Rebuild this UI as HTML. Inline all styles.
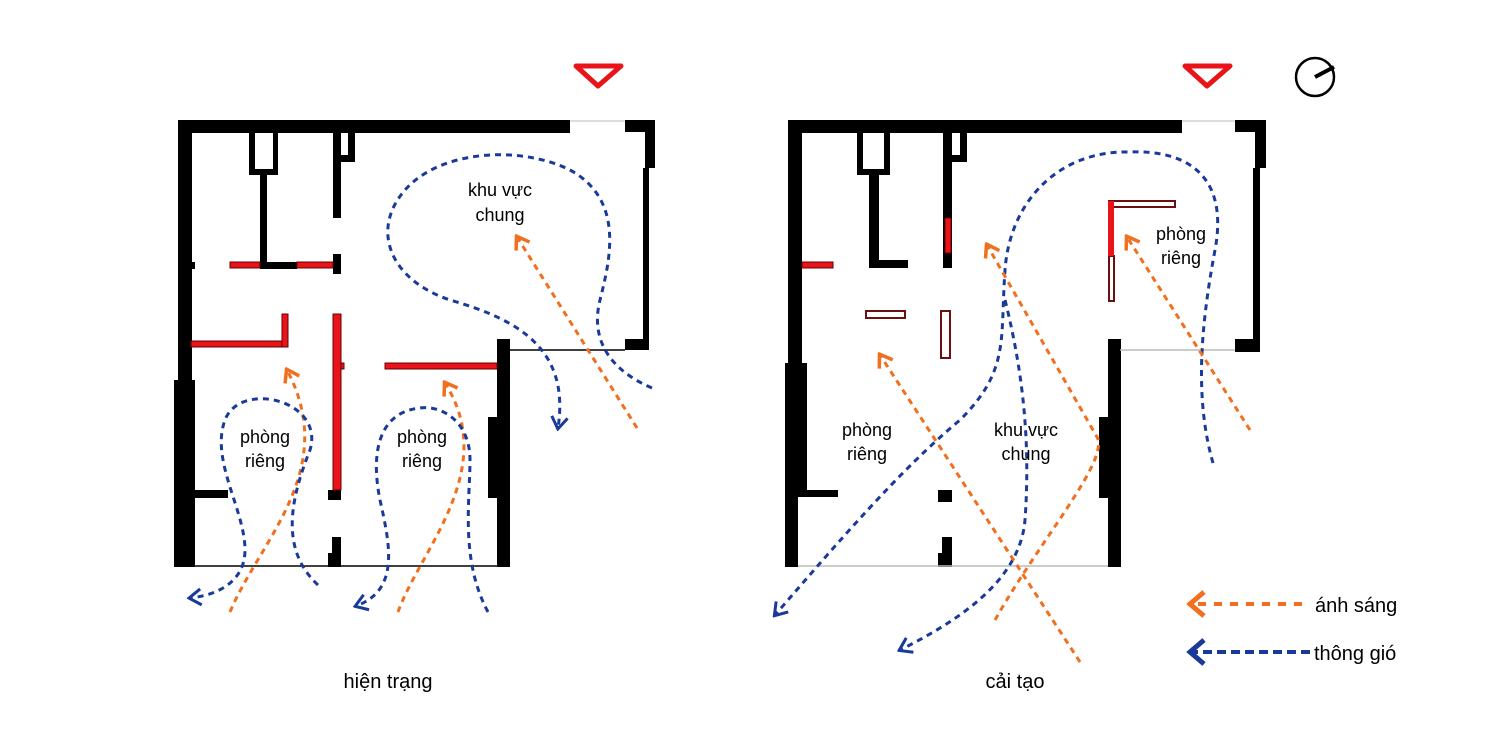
<!DOCTYPE html>
<html><head><meta charset="utf-8"><style>
html,body{margin:0;padding:0;background:#fff;}
svg{display:block;}
text{font-family:"Liberation Sans",sans-serif;fill:#000;}
</style></head><body>
<svg width="1500" height="735" viewBox="0 0 1500 735" xmlns="http://www.w3.org/2000/svg">
<defs>
<marker id="mo" markerUnits="userSpaceOnUse" markerWidth="20" markerHeight="20" refX="17" refY="10" orient="auto" viewBox="0 0 20 20"><path d="M14,2 L2,10 L14,18" fill="none" stroke="#f07020" stroke-width="3.5" transform="rotate(180 10 10)"/></marker>
<marker id="mb" markerUnits="userSpaceOnUse" markerWidth="20" markerHeight="20" refX="17" refY="10" orient="auto" viewBox="0 0 20 20"><path d="M14,2 L2,10 L14,18" fill="none" stroke="#1a3a9a" stroke-width="3" transform="rotate(180 10 10)"/></marker>
<marker id="mo2" markerUnits="userSpaceOnUse" markerWidth="30" markerHeight="30" refX="26" refY="15" orient="auto" viewBox="0 0 30 30"><path d="M18,3 L4,15 L18,27" fill="none" stroke="#f07020" stroke-width="5" transform="rotate(180 15 15)"/></marker>
<marker id="mb2" markerUnits="userSpaceOnUse" markerWidth="30" markerHeight="30" refX="26" refY="15" orient="auto" viewBox="0 0 30 30"><path d="M18,3 L4,15 L18,27" fill="none" stroke="#1a3a9a" stroke-width="5" transform="rotate(180 15 15)"/></marker>
</defs>

<!-- LEFT PLAN -->
<g fill="#000">
<rect x="178" y="120" width="392" height="13"/>
<rect x="625" y="120" width="30" height="12"/>
<rect x="645" y="120" width="10" height="48"/>
<rect x="643" y="168" width="6" height="182"/>
<rect x="625" y="339" width="24" height="11"/>
<rect x="178" y="120" width="14" height="262"/>
<rect x="174" y="380" width="21" height="187"/>
<rect x="191" y="262" width="4" height="7"/>
<rect x="497" y="339" width="13" height="228"/>
<rect x="488" y="417" width="10" height="81"/>
<rect x="333" y="133" width="8" height="85"/>
<rect x="341" y="133" width="14" height="29"/>
<rect x="333" y="254" width="8" height="20"/>
<rect x="249" y="133" width="29" height="42"/>
<rect x="260" y="175" width="7" height="90"/>
<rect x="260" y="262" width="37" height="7"/>
<rect x="328" y="490" width="13" height="10"/>
<rect x="332" y="537" width="9" height="30"/>
<rect x="328" y="553" width="6" height="14"/>
<rect x="188" y="490" width="40" height="8"/>
</g>
<rect x="255" y="133" width="18" height="36" fill="#fff"/>
<rect x="341" y="133" width="7" height="22" fill="#fff"/>
<line x1="570" y1="121" x2="625" y2="121" stroke="#bbb" stroke-width="1"/>
<line x1="510" y1="350" x2="625" y2="350" stroke="#000" stroke-width="1.5"/>
<line x1="187" y1="566" x2="500" y2="566" stroke="#000" stroke-width="1.5"/>
<g fill="#e8141a" stroke="#600" stroke-width="1">
<rect x="230" y="262" width="30" height="6"/>
<rect x="297" y="262" width="36" height="6"/>
<rect x="191" y="341" width="97" height="6"/>
<rect x="282" y="314" width="6" height="33"/>
<rect x="333" y="314" width="8" height="176"/>
<rect x="341" y="363" width="3" height="6"/>
<rect x="385" y="363" width="112" height="6"/>
</g>

<!-- RIGHT PLAN -->
<g fill="#000">
<rect x="788" y="120" width="394" height="13"/>
<rect x="1235" y="120" width="31" height="12"/>
<rect x="1255" y="120" width="11" height="48"/>
<rect x="1253" y="168" width="7" height="182"/>
<rect x="1235" y="339" width="25" height="13"/>
<rect x="788" y="120" width="14" height="245"/>
<rect x="785" y="363" width="22" height="134"/>
<rect x="785" y="497" width="13" height="70"/>
<rect x="802" y="490" width="36" height="7"/>
<rect x="857" y="133" width="33" height="42"/>
<rect x="869" y="175" width="10" height="93"/>
<rect x="869" y="260" width="39" height="8"/>
<rect x="943" y="133" width="9" height="135"/>
<rect x="952" y="133" width="15" height="29"/>
<rect x="938" y="490" width="14" height="12"/>
<rect x="942" y="537" width="10" height="30"/>
<rect x="938" y="553" width="6" height="14"/>
<rect x="1108" y="339" width="13" height="228"/>
<rect x="1099" y="417" width="10" height="81"/>
</g>
<rect x="863" y="133" width="21" height="36" fill="#fff"/>
<rect x="952" y="133" width="8" height="22" fill="#fff"/>
<line x1="1182" y1="121" x2="1235" y2="121" stroke="#bbb" stroke-width="1"/>
<line x1="1120" y1="350" x2="1235" y2="350" stroke="#bbb" stroke-width="1.5"/>
<line x1="798" y1="566" x2="1108" y2="566" stroke="#bbb" stroke-width="1.5"/>
<g fill="#e8141a" stroke="#600" stroke-width="1">
<rect x="945" y="218" width="6" height="35"/>
<rect x="802" y="262" width="31" height="6"/>
</g>
<g fill="#fff" stroke="#6a1010" stroke-width="2">
<rect x="866" y="311" width="39" height="7"/>
<rect x="941" y="311" width="9" height="47"/>
<rect x="1109" y="201" width="66" height="6"/>
<rect x="1109" y="256" width="5" height="45"/>
</g>
<rect x="1108" y="201" width="6" height="55" fill="#e8141a"/>

<!-- arrows -->
<g fill="none" stroke-width="3" stroke-dasharray="6 5">
<path d="M652,388 C610,370 590,340 600,300 S625,200 570,170 C520,145 440,150 405,190 C370,230 390,280 450,300 C520,320 570,350 558,428" stroke="#1a3a9a" marker-end="url(#mb)"/>
<path d="M637,428 L517,237" stroke="#f07020" marker-end="url(#mo)"/>
<path d="M230,612 C260,540 340,470 287,370" stroke="#f07020" marker-end="url(#mo)"/>
<path d="M318,585 C280,550 290,500 310,450 C325,400 240,380 225,420 C210,460 245,510 245,550 C245,580 220,595 190,598" stroke="#1a3a9a" marker-end="url(#mb)"/>
<path d="M398,612 C420,550 500,470 445,383" stroke="#f07020" marker-end="url(#mo)"/>
<path d="M488,612 C460,560 470,500 470,460 C470,420 440,405 420,408 C380,412 370,450 380,500 C390,545 400,590 356,606" stroke="#1a3a9a" marker-end="url(#mb)"/>
<path d="M1213,463 C1195,400 1200,330 1215,250 C1230,170 1180,150 1130,152 C1060,150 1010,200 1005,270 C1000,340 1010,370 960,420 C900,470 840,540 775,615" stroke="#1a3a9a" marker-end="url(#mb)"/>
<path d="M1005,300 C1025,380 1030,450 1025,520 C1020,580 960,620 900,650" stroke="#1a3a9a" marker-end="url(#mb)"/>
<path d="M995,620 C1040,540 1110,460 1097,437 L987,245" stroke="#f07020" marker-end="url(#mo)"/>
<path d="M1080,662 L880,355" stroke="#f07020" marker-end="url(#mo)"/>
<path d="M1250,430 L1127,237" stroke="#f07020" marker-end="url(#mo)"/>
<path d="M1302,604 L1190,604" stroke="#f07020" stroke-width="4" stroke-dasharray="8 8" marker-end="url(#mo2)"/>
<path d="M1310,652 L1190,652" stroke="#1a3a9a" stroke-width="4" stroke-dasharray="9 5" marker-end="url(#mb2)"/>
</g>

<polygon points="576,66 621,66 598,86" fill="none" stroke="#e8141a" stroke-width="5" stroke-linejoin="round"/>
<polygon points="1185,66 1230,66 1207,86" fill="none" stroke="#e8141a" stroke-width="5" stroke-linejoin="round"/>
<circle cx="1315" cy="77" r="19" fill="none" stroke="#000" stroke-width="2.5"/>
<line x1="1315" y1="77" x2="1334" y2="67" stroke="#000" stroke-width="4"/>

<g font-size="18" text-anchor="middle">
<text x="500" y="196">khu vực</text><text x="500" y="221">chung</text>
<text x="265" y="443">phòng</text><text x="265" y="467">riêng</text>
<text x="422" y="443">phòng</text><text x="422" y="467">riêng</text>
<text x="867" y="436">phòng</text><text x="867" y="460">riêng</text>
<text x="1026" y="436">khu vực</text><text x="1026" y="460">chung</text>
<text x="1181" y="240">phòng</text><text x="1181" y="264">riêng</text>
</g>
<g font-size="20" text-anchor="middle">
<text x="388" y="688">hiện trạng</text>
<text x="1015" y="688">cải tạo</text>
</g>
<text x="1315" y="612" font-size="20">ánh sáng</text>
<text x="1314" y="660" font-size="20">thông gió</text>
</svg>
</body></html>
